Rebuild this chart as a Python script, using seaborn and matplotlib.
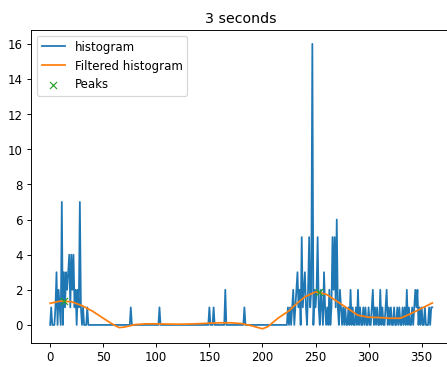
import numpy as np
import matplotlib
matplotlib.use("Agg")
import matplotlib.pyplot as plt
import seaborn as sns

# ---- data ----
n_bins = 361
hist_bins = [1, 5, 6, 8, 9, 11, 13, 14, 15, 16, 17, 18, 19, 20, 21, 22, 23, 24, 26, 27, 28, 29, 31, 35,
             76, 103, 150, 154, 165, 183,
             224, 226, 228, 229, 231, 232, 233, 234, 235, 237, 238, 239, 240, 241, 243, 244, 245, 246,
             247, 249, 250, 251, 252, 253, 255, 256, 258, 259, 261, 263, 265, 266, 267, 268, 269, 270,
             271, 273, 274, 276, 278, 281, 283, 285, 288, 290, 292, 295, 297, 300, 303, 304, 306, 308,
             311, 313, 316, 317, 319, 321, 324, 327, 329, 332, 334, 336, 338, 341, 343, 344, 345, 346,
             348, 350, 353, 357, 359, 360]
hist_counts = [1, 1, 3, 2, 1, 7, 3, 1, 3, 2, 3, 4, 1, 4, 2, 4, 1, 2, 2, 1, 7, 1, 1, 1,
               1, 1, 1, 1, 2, 1,
               1, 1, 1, 2, 1, 2, 3, 1, 2, 5, 1, 2, 3, 1, 2, 5, 1, 2,
               16, 2, 1, 2, 5, 1, 2, 1, 3, 1, 1, 2, 1, 5, 2, 5, 1, 6,
               1, 2, 1, 1, 1, 1, 2, 1, 1, 2, 1, 1, 1, 1, 1, 2, 1, 1,
               2, 1, 1, 2, 1, 1, 1, 1, 1, 1, 1, 2, 1, 1, 1, 2, 1, 2,
               1, 1, 1, 1, 1, 1]

filt_x = [0, 10, 20, 30, 40, 50, 60, 65, 70, 80, 90, 100, 110, 120, 130, 140, 150, 160, 170,
          180, 190, 200, 205, 210, 215, 220, 225, 230, 240, 250, 260, 270, 280, 290, 300, 310,
          320, 330, 340, 350, 360]
filt_y = [1.23, 1.36, 1.32, 1.10, 0.78, 0.38, 0.00, -0.15, -0.12, 0.02, 0.06, 0.06, 0.05, 0.04,
          0.05, 0.07, 0.10, 0.12, 0.12, 0.08, -0.05, -0.22, -0.10, 0.15, 0.40, 0.60, 0.80, 1.10,
          1.60, 1.88, 1.75, 1.35, 0.95, 0.55, 0.44, 0.42, 0.38, 0.38, 0.65, 0.95, 1.25]

peak_x = [13, 253]
peak_y = [1.36, 1.90]

title = "3 seconds"

# ---- build ----
hist = np.zeros(n_bins)
hist[hist_bins] = hist_counts
x = np.arange(n_bins)

DPI = 84.7
fig = plt.figure(figsize=(447.4 / DPI, 367.4 / DPI), dpi=DPI)
ax = fig.add_axes([31 / 447, (367 - 342.7) / 367, 420 / 447, 312.7 / 367])

sns.lineplot(x=x, y=hist, ax=ax, color="C0", label="histogram", estimator=None)
sns.lineplot(x=filt_x, y=filt_y, ax=ax, color="C1", label="Filtered histogram", estimator=None)
sns.scatterplot(x=peak_x, y=peak_y, ax=ax, color="C2", marker="x", s=36, linewidth=1,
                label="Peaks", zorder=3)

ax.set_xlim(-18, 378)
ax.set_ylim(-1.01, 16.81)
ax.set_xticks([0, 50, 100, 150, 200, 250, 300, 350])
ax.set_yticks([0, 2, 4, 6, 8, 10, 12, 14, 16])
ax.set_xlabel("")
ax.set_ylabel("")
ax.set_title(title)
ax.legend(loc="upper left")

fig.savefig("out.png", dpi=DPI)
